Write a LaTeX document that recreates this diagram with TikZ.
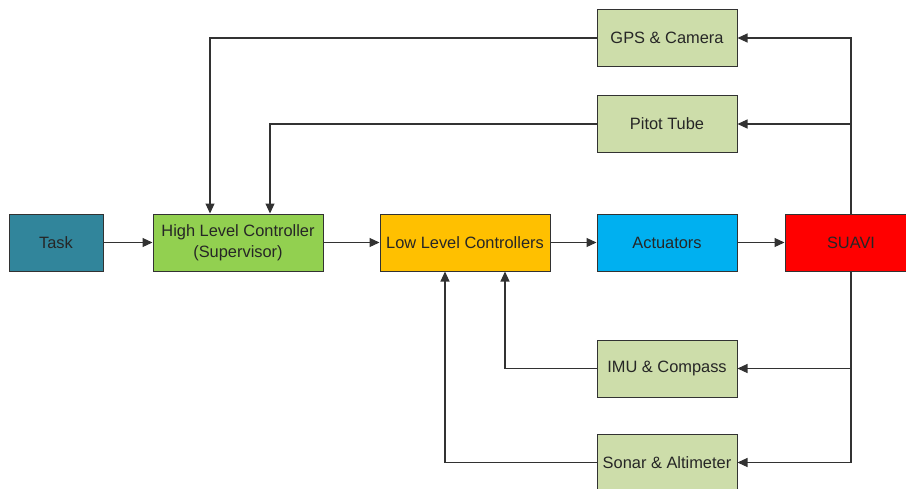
\documentclass[tikz,border=0pt]{standalone}
\usepackage{fontspec}
\setmainfont{Liberation Sans}
\usetikzlibrary{arrows.meta, positioning}

\definecolor{taskblue}{RGB}{49,133,155}
\definecolor{hlcgreen}{RGB}{146,208,80}
\definecolor{llcorange}{RGB}{255,192,0}
\definecolor{actblue}{RGB}{0,176,240}
\definecolor{suavired}{RGB}{255,0,0}
\definecolor{sensorgreen}{RGB}{205,221,170}
\definecolor{edgegray}{RGB}{50,50,50}

\begin{document}
\begin{tikzpicture}[x=1pt, y=1pt, >={Triangle[length=10pt,width=9pt]}]
      \clip (0,0) rectangle (906,-488);

      % Define the style for the blocks
      \tikzstyle{block}=[rectangle, draw=edgegray, line width=1pt, minimum height=57pt, inner sep=0pt, align=center, font=\fontsize{16.4}{21}\selectfont, text=black!85]
      \tikzstyle{sensor}=[block, fill=sensorgreen, minimum width=140pt]

      % Main chain
      \node[block, fill=taskblue, minimum width=94pt] (task) at (56,-242.5) {Task};
      \node[block, fill=hlcgreen, minimum width=170pt] (hlc) [right=49pt of task] {High Level Controller\\(Supervisor)};
      \node[block, fill=llcorange, minimum width=170pt] (llc) [right=56pt of hlc] {Low Level Controllers};
      \node[block, fill=actblue, minimum width=140pt] (act) [right=46pt of llc] {Actuators};
      \node[block, fill=suavired, minimum width=132pt] (suavi) [right=47pt of act] {SUAVI};

      % Sensors
      \node[sensor] (pitot) [above=60.5pt of act] {Pitot Tube};
      \node[sensor] (gps) [above=28pt of pitot] {GPS \& Camera};
      \node[sensor] (imu) [below=68pt of act] {IMU \& Compass};
      \node[sensor] (sonar) [below=36pt of imu] {Sonar \& Altimeter};

      % Define the style for the edges
      \tikzstyle{edge}=[draw=edgegray, line width=1.1pt, ->]

      % Edges
      \draw[edge] (task) -- (hlc);
      \draw[edge] (hlc) -- (llc);
      \draw[edge] (llc) -- (act);
      \draw[edge] (act) -- (suavi);

      % Feedback
      \draw[edge] (suavi.north) |- (gps.east);
      \draw[edge] (suavi.north) |- (pitot.east);
      \draw[edge] (suavi.south) |- (imu.east);
      \draw[edge] (suavi.south) |- (sonar.east);
      \draw[edge] (gps.west) -| ([xshift=-28pt]hlc.north);
      \draw[edge] (pitot.west) -| ([xshift=32pt]hlc.north);
      \draw[edge] (imu.west) -| ([xshift=40pt]llc.south);
      \draw[edge] (sonar.west) -| ([xshift=-20pt]llc.south);

    \end{tikzpicture}
\end{document}
